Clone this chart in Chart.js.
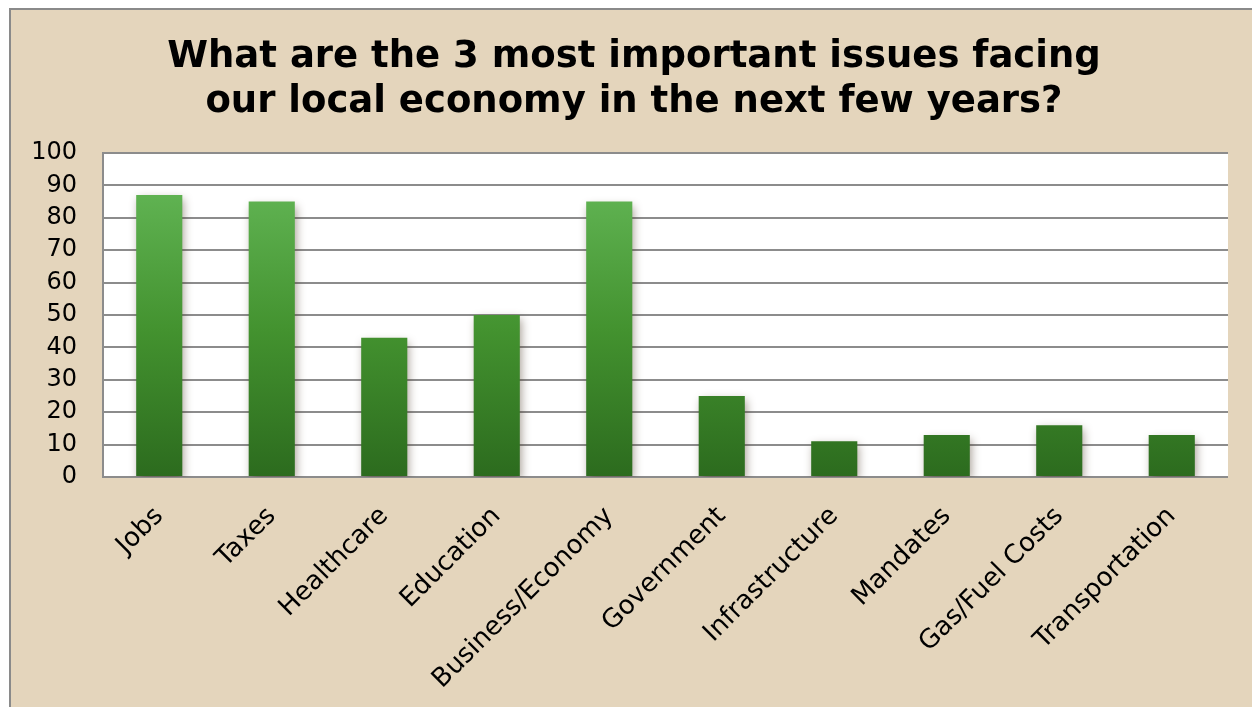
<!DOCTYPE html>
<html>
<head>
<meta charset="utf-8">
<script src="https://cdn.jsdelivr.net/npm/chart.js@4/dist/chart.umd.min.js"></script>
<style>
  html, body { margin: 0; padding: 0; background: #ffffff; }
  #wrap { width: 1252px; height: 707px; position: relative; }
</style>
</head>
<body>
<div id="wrap"><canvas id="issuesChart" width="1252" height="707"></canvas></div>
<script>
// survey answers, percent of respondents
const issues = ['Jobs', 'Taxes', 'Healthcare', 'Education', 'Business/Economy',
    'Government', 'Infrastructure', 'Mandates', 'Gas/Fuel Costs', 'Transportation'];
const percents = [87, 85, 43, 50, 85, 25, 11, 13, 16, 13];
const yTicks = [0, 10, 20, 30, 40, 50, 60, 70, 80, 90, 100];

const titleLines = ['What are the 3 most important issues facing',
    'our local economy in the next few years?'];

//beige panel with grey edge, white plot area
const panelPlugin = {
    id: 'panel',
    beforeDraw(chart) {
        const ctx = chart.ctx;
        const a = chart.chartArea;
        ctx.save();
        ctx.fillStyle = '#e4d5bc';
        ctx.fillRect(10, 9, chart.width, chart.height);
        ctx.strokeStyle = '#8a8a8a';
        ctx.lineWidth = 2;
        ctx.beginPath();
        ctx.moveTo(10, chart.height);
        ctx.lineTo(10, 9);
        ctx.lineTo(chart.width, 9);
        ctx.stroke();
        ctx.fillStyle = '#ffffff';
        ctx.fillRect(a.left, a.top, a.right - a.left, a.bottom - a.top);
        ctx.restore();
    }
};

//title sits centred on the beige panel, not on the chart box
const headingPlugin = {
    id: 'heading',
    afterDraw(chart) {
        const ctx = chart.ctx;
        const cx = (10 + chart.width) / 2 + 3;
        ctx.save();
        ctx.fillStyle = '#000000';
        ctx.font = 'bold 37px "DejaVu Sans"';
        ctx.textAlign = 'center';
        ctx.textBaseline = 'alphabetic';
        titleLines.forEach((line, i) => ctx.fillText(line, cx, 67 + i * 45));
        ctx.restore();
    }
};

//soft drop shadow under the bars
const shadowPlugin = {
    id: 'barShadow',
    beforeDatasetsDraw(chart) {
        const ctx = chart.ctx;
        ctx.save();
        ctx.shadowColor = 'rgba(60,40,20,0.45)';
        ctx.shadowBlur = 9;
        ctx.shadowOffsetX = 2;
        ctx.shadowOffsetY = 4;
    },
    afterDatasetsDraw(chart) {
        chart.ctx.restore();
    }
};

function barGradient(context) {
    const chart = context.chart;
    const a = chart.chartArea;
    if (!a) return '#4a9e3a';
    const el = context.element;
    const top = el && el.y != null ? el.y : a.top;
    const g = chart.ctx.createLinearGradient(0, top, 0, a.bottom);
    g.addColorStop(0, '#68bc5c');
    g.addColorStop(0.55, '#43922f');
    g.addColorStop(1, '#2c6b1e');
    return g;
}

const ctx = document.getElementById('issuesChart').getContext('2d');
const issuesChart = new Chart(ctx, {
    type: 'bar',
    data: {
        labels: issues,
        datasets: [{
            data: percents,
            backgroundColor: barGradient,
            borderWidth: 0,
            categoryPercentage: 1,
            barPercentage: 0.41
        }]
    },
    options: {
        responsive: false,
        animation: false,
        layout: { padding: { left: 0, right: 24, top: 153, bottom: 0 } },
        plugins: {
            legend: { display: false },
            tooltip: { enabled: false },
            title: { display: false }
        },
        scales: {
            x: {
                grid: { display: false, drawTicks: false },
                border: { display: false },
                ticks: {
                    color: '#000000',
                    font: { family: 'DejaVu Sans', size: 26 },
                    maxRotation: 45,
                    minRotation: 45,
                    autoSkip: false,
                    padding: 24
                },
                afterFit(scale) { scale.height = 230; }
            },
            y: {
                min: 0,
                max: 100,
                afterBuildTicks(scale) { scale.ticks = yTicks.map(v => ({ value: v })); },
                grid: { color: '#8c8c8c', lineWidth: 2, drawTicks: false },
                border: { display: true, color: '#8c8c8c', width: 2 },
                ticks: {
                    color: '#000000',
                    font: { family: 'DejaVu Sans', size: 24 },
                    autoSkip: false,
                    padding: 26
                },
                afterFit(scale) { scale.width = 103; }
            }
        }
    },
    plugins: [panelPlugin, headingPlugin, shadowPlugin]
});
</script>
</body>
</html>
